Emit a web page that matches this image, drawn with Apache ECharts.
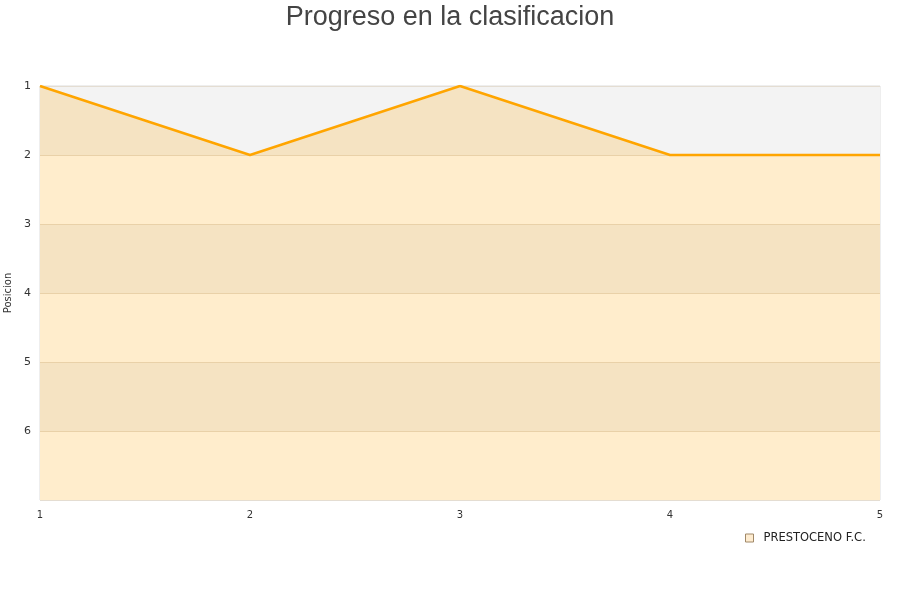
<!DOCTYPE html>
<html>
<head>
<meta charset="utf-8">
<style>
    html, body {margin: 0; padding: 0; background: #fff;}
    #chart {width: 900px; height: 600px;}
</style>
<script src="https://cdn.jsdelivr.net/npm/echarts@6/dist/echarts.min.js"></script>
</head>
<body>
<div id="chart"></div>
<script>
var jornadas = ["1", "2", "3", "4", "5"];
var posiciones = [1, 2, 1, 2, 2];
var equipo = "PRESTOCENO F.C.";

var myChart = echarts.init(document.getElementById("chart"));

var option = {
    animation: false,
    title: {
        text: "Progreso en la clasificacion",
        left: "center",
        top: -1,
        textStyle: {color: "#444", fontSize: 27, fontWeight: "normal", fontFamily: "Liberation Sans"}
    },
    legend: {
        left: 740,
        top: 527,
        icon: "rect",
        itemWidth: 8,
        itemHeight: 8,
        itemGap: 10,
        textStyle: {color: "#222", fontSize: 11.5, fontFamily: "DejaVu Sans", padding: [0, 0, 0, 5]},
        data: [{
            name: equipo,
            itemStyle: {color: "#feecd0", borderColor: "#a08868", borderWidth: 1}
        }]
    },
    grid: {
        left: 40,
        right: 20,
        top: 86,
        bottom: 100,
        outerBoundsMode: "none",
        containLabel: false,
        show: true,
        borderColor: "#ddd",
        borderWidth: 1
    },
    xAxis: {
        type: "category",
        boundaryGap: false,
        data: jornadas,
        axisLine: {show: false},
        axisTick: {show: false},
        axisLabel: {color: "#333", fontSize: 10, fontFamily: "DejaVu Sans", margin: 10},
        splitLine: {show: false}
    },
    yAxis: {
        type: "value",
        inverse: true,
        min: 1,
        max: 7,
        interval: 1,
        name: "Posicion",
        nameLocation: "middle",
        nameGap: 21,
        nameTextStyle: {color: "#333", fontSize: 10, fontFamily: "DejaVu Sans"},
        axisLine: {show: false},
        axisTick: {show: false},
        axisLabel: {
            color: "#333", fontSize: 11, fontFamily: "DejaVu Sans", margin: 9,
            formatter: function (v) { return v >= 7 ? "" : v; }
        },
        splitLine: {show: true, lineStyle: {color: "#e4ddd2", width: 1}},
        splitArea: {show: true, areaStyle: {color: ["#f3f3f3", "#ffffff"]}}
    },
    series: [{
        name: equipo,
        type: "line",
        data: posiciones,
        showSymbol: false,
        lineStyle: {color: "#ffa500", width: 2.5},
        itemStyle: {color: "#ffa500"},
        areaStyle: {color: "rgba(255,165,0,0.2)", opacity: 1, origin: "end"}
    }]
};

myChart.setOption(option);
</script>
</body>
</html>
